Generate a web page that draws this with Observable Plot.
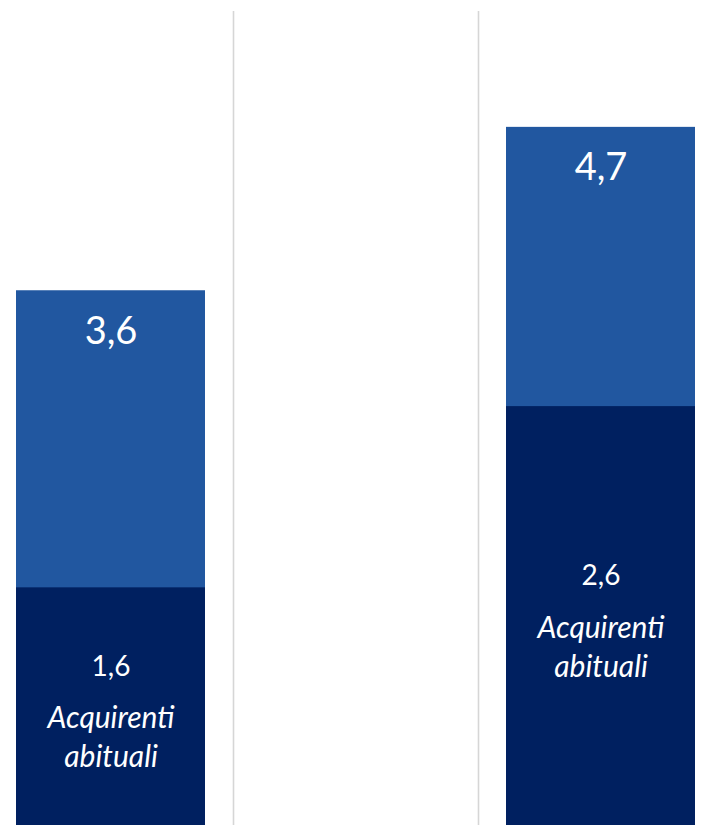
<!DOCTYPE html>
<html>
<head>
<meta charset="utf-8">
<script src="https://cdn.jsdelivr.net/npm/d3@7"></script>
<script src="https://cdn.jsdelivr.net/npm/@observablehq/plot@0.6"></script>
<style>
  html, body { margin: 0; padding: 0; background: #ffffff; }
  #chart svg { display: block; }
</style>
</head>
<body>
<div id="chart"></div>
<script>
// ---- data ----
const categories = ["Gruppo 1", "Gruppo 2", "Gruppo 3"];
const barCategories = ["Gruppo 1", "Gruppo 3"];
const totalValues = [3.6, 4.7];
const habitualValues = [1.6, 2.82];
const habitualLabels = ["1,6", "2,6"];
const segmentName = "Acquirenti\nabituali";
const separatorCategories = ["Gruppo 2", "Gruppo 3"];

const fmt = v => v.toFixed(1).replace(".", ",");
const idx = barCategories.map((_, i) => i);

const lightBlue = "#2157a0";
const darkBlue = "#002060";
const font = "Lato, 'Noto Sans', sans-serif";

const chart = Plot.plot({
  width: 703,
  height: 825,
  marginTop: 11,
  marginBottom: 0,
  marginLeft: 0,
  marginRight: 0,
  style: { fontFamily: font, background: "#ffffff" },
  x: { domain: categories, range: [-12.5, 722.5], paddingInner: 0.23, paddingOuter: 0.115, axis: null },
  y: { domain: [0, 5.48], axis: null },
  marks: [
    Plot.ruleX(separatorCategories, { x: d => d, dx: -122.5, stroke: "#d6d6d6", strokeWidth: 1.6 }),
    Plot.barY(idx, { x: i => barCategories[i], y: i => totalValues[i], fill: lightBlue }),
    Plot.barY(idx, { x: i => barCategories[i], y: i => habitualValues[i], fill: darkBlue }),
    Plot.text(idx, {
      x: i => barCategories[i], y: i => totalValues[i], text: i => fmt(totalValues[i]),
      lineAnchor: "top", dy: 26, fill: "#ffffff", fontSize: 38, fontFamily: font
    }),
    Plot.text(idx, {
      x: i => barCategories[i], y: i => habitualValues[i] / 2, text: i => habitualLabels[i],
      lineAnchor: "bottom", dy: -31, fill: "#ffffff", fontSize: 28, fontFamily: font
    }),
    Plot.text(idx, {
      x: i => barCategories[i], y: i => habitualValues[i] / 2, text: () => segmentName,
      lineAnchor: "bottom", dy: 60.5, lineHeight: 1.3, fill: "#ffffff", fontSize: 30,
      fontStyle: "italic", fontFamily: font
    })
  ]
});

document.getElementById("chart").appendChild(chart);
</script>
</body>
</html>
